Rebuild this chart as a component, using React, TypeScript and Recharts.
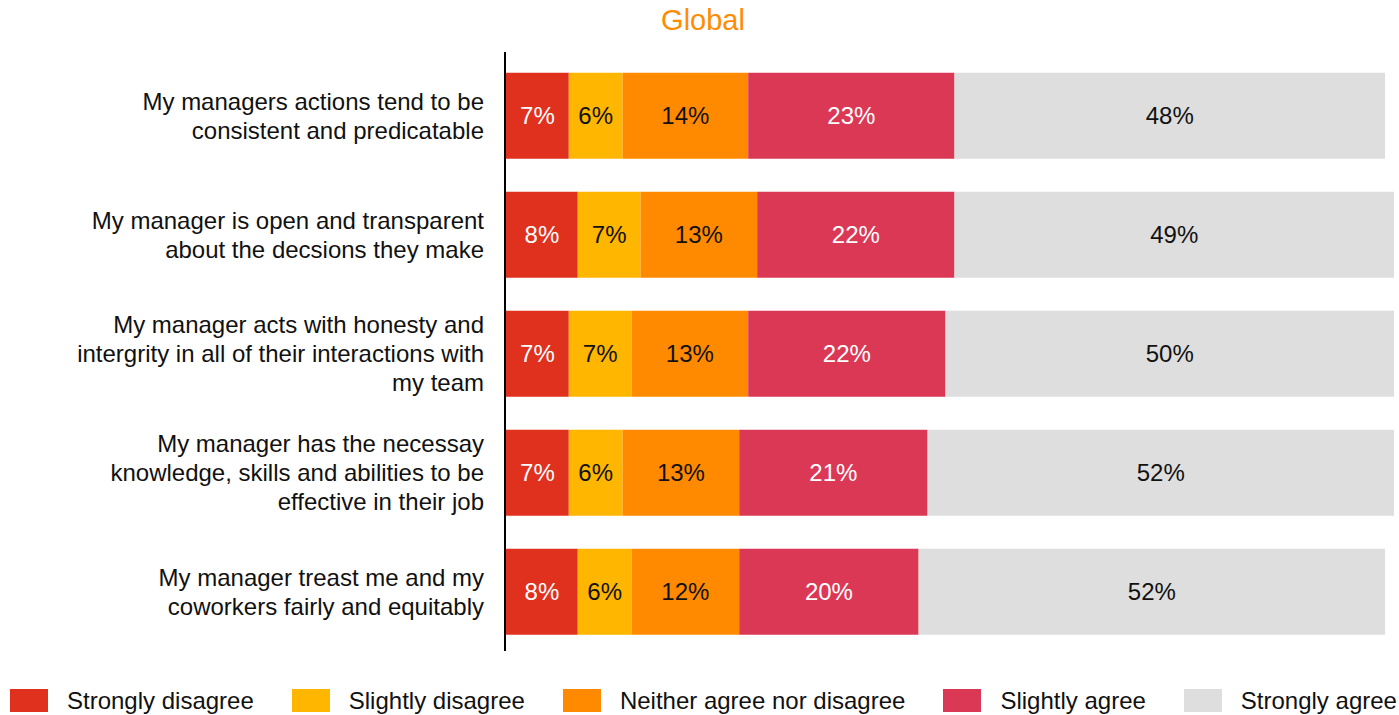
import { BarChart, Bar, XAxis, YAxis, LabelList } from "recharts";

const categories = [
  "My managers actions tend to be\nconsistent and predicatable",
  "My manager is open and transparent\nabout the decsions they make",
  "My manager acts with honesty and\nintergrity in all of their interactions with\nmy team",
  "My manager has the necessay\nknowledge, skills and abilities to be\neffective in their job",
  "My manager treast me and my\ncoworkers fairly and equitably",
];

const stronglyDisagree = [7, 8, 7, 7, 8];
const slightlyDisagree = [6, 7, 7, 6, 6];
const neitherAgree = [14, 13, 13, 13, 12];
const slightlyAgree = [23, 22, 22, 21, 20];
const stronglyAgree = [48, 49, 50, 52, 52];

const series = [
  { key: "sd", name: "Strongly disagree", color: "#E0301E", text: "#ffffff" },
  { key: "sld", name: "Slightly disagree", color: "#FFB600", text: "#111111" },
  { key: "n", name: "Neither agree nor disagree", color: "#FF8A00", text: "#111111" },
  { key: "sla", name: "Slightly agree", color: "#DB3855", text: "#ffffff" },
  { key: "sa", name: "Strongly agree", color: "#DEDEDE", text: "#111111" },
];

const data = categories.map((label, i) => ({
  label,
  sd: stronglyDisagree[i],
  sld: slightlyDisagree[i],
  n: neitherAgree[i],
  sla: slightlyAgree[i],
  sa: stronglyAgree[i],
}));

const FONT = '"Liberation Sans", Arial, Helvetica, sans-serif';

const CategoryTick = (props: any) => {
  const { y, payload } = props;
  const lines = String(payload.value).split("\n");
  const lh = 29;
  return (
    <text x={484} y={y} textAnchor="end" fontSize={24} fill="#111" fontFamily={FONT}>
      {lines.map((line, i) => (
        <tspan key={i} x={484} y={y + (i - (lines.length - 1) / 2) * lh} dy="0.36em">
          {line}
        </tspan>
      ))}
    </text>
  );
};

export default function App() {
  return (
    <div style={{ position: "absolute", left: 0, top: 0, width: 1399, height: 715, background: "#fff", fontFamily: FONT, overflow: "hidden" }}>
      <div
        style={{
          position: "absolute",
          top: 4,
          left: 0,
          width: 1406,
          textAlign: "center",
          fontSize: 29,
          color: "#FF8C00",
        }}
      >
        Global
      </div>
      {/* vertical axis rule, slightly taller than the plot like the original */}
      <div style={{ position: "absolute", left: 504, top: 52, width: 2, height: 599, background: "#000" }} />
      <BarChart
        width={1399}
        height={715}
        data={data}
        layout="vertical"
        margin={{ top: 56, right: 5, bottom: 64, left: 0 }}
        barCategoryGap="14%"
      >
        <XAxis type="number" domain={[0, 99]} hide />
        <YAxis
          type="category"
          dataKey="label"
          width={506}
          axisLine={false}
          tickLine={false}
          tick={<CategoryTick />}
          interval={0}
        />
        {series.map((s) => (
          <Bar key={s.key} dataKey={s.key} name={s.name} stackId="a" fill={s.color} isAnimationActive={false}>
            <LabelList
              dataKey={s.key}
              position="center"
              formatter={(v: any) => `${v}%`}
              fill={s.text}
              fontSize={24}
              fontFamily={FONT}
            />
          </Bar>
        ))}
      </BarChart>
      <div style={{ position: "absolute", top: 689, left: 10, width: 1400, display: "flex", alignItems: "center", whiteSpace: "nowrap" }}>
        {series.map((s) => (
          <div key={s.key} style={{ display: "flex", alignItems: "center", marginRight: 38, flexShrink: 0 }}>
            <div style={{ width: 38, height: 23, background: s.color, flexShrink: 0 }} />
            <span style={{ marginLeft: 19, fontSize: 24, color: "#111", lineHeight: "23px" }}>{s.name}</span>
          </div>
        ))}
      </div>
    </div>
  );
}
